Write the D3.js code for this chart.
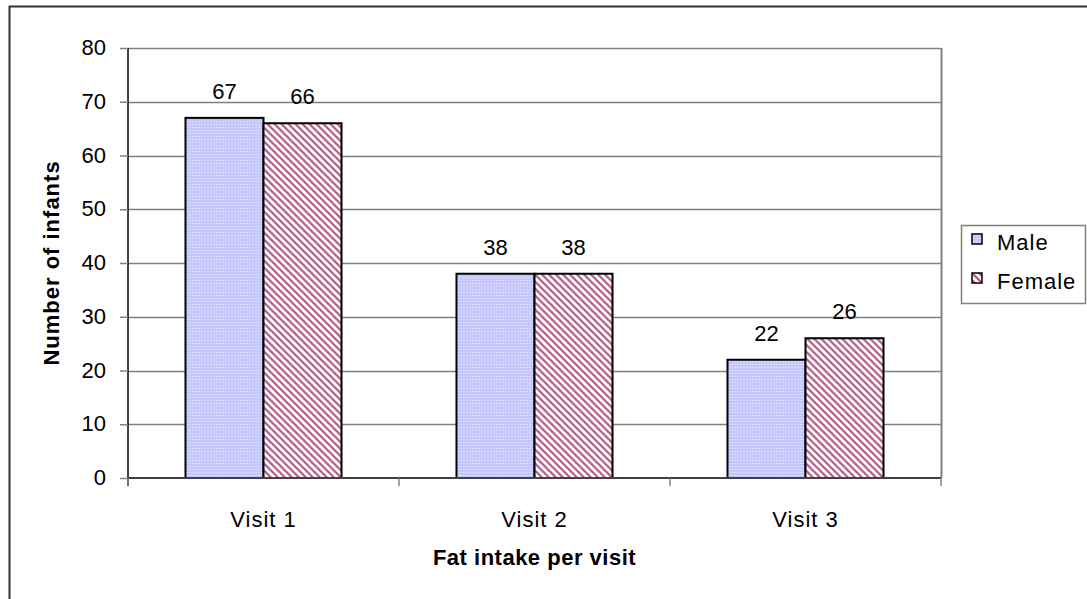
<!DOCTYPE html>
<html>
<head>
<meta charset="utf-8">
<script src="https://cdn.jsdelivr.net/npm/d3@7"></script>
<style>
  html, body { margin: 0; padding: 0; background: #fff; }
  svg { display: block; }
  text { font-family: "Liberation Sans", Arial, sans-serif; fill: #000; }
</style>
</head>
<body>
<svg id="chart" width="1087" height="599"></svg>
<script>
// Infants per visit, by sex
const visits = ["Visit 1", "Visit 2", "Visit 3"];
const seriesNames = ["Male", "Female"];
const maleCounts = [67, 38, 22];
const femaleCounts = [66, 38, 26];
const yTicks = [0, 10, 20, 30, 40, 50, 60, 70, 80];

const svg = d3.select("#chart");
const W = 1087, H = 599;
const plot = { left: 128, right: 941, top: 48, bottom: 478 };
const FONT = "Liberation Sans, Arial, sans-serif";

// outer frame (left and top edges visible)
svg.append("rect")
  .attr("x", 9.5).attr("y", 6.5)
  .attr("width", W + 20).attr("height", H + 20)
  .attr("fill", "#fff").attr("stroke", "#333").attr("stroke-width", 2);

// fill patterns
const defs = svg.append("defs");
const dots = defs.append("pattern")
  .attr("id", "pat-male").attr("patternUnits", "userSpaceOnUse")
  .attr("width", 3).attr("height", 3);
dots.append("rect").attr("width", 3).attr("height", 3).attr("fill", "#c6c6ff");
dots.append("rect").attr("x", 1).attr("y", 1).attr("width", 1).attr("height", 1).attr("fill", "#f4f4ff");

const stripes = defs.append("pattern")
  .attr("id", "pat-female").attr("patternUnits", "userSpaceOnUse")
  .attr("width", 7).attr("height", 7);
stripes.append("rect").attr("width", 7).attr("height", 7).attr("fill", "#fff");
stripes.append("path")
  .attr("d", "M-2,-2 L9,9 M-9,-2 L2,9 M5,-2 L16,9")
  .attr("stroke", "#b0507f").attr("stroke-width", 2);

const patterns = { Male: "url(#pat-male)", Female: "url(#pat-female)" };

const x0 = d3.scaleBand().domain(visits).range([plot.left, plot.right]).paddingInner(0).paddingOuter(0);
const x1 = d3.scaleBand().domain(seriesNames).range([0, 156]);
const groupOffset = (x0.bandwidth() - 156) / 2;
const y = d3.scaleLinear().domain([0, 80]).range([plot.bottom, plot.top]);

// gridlines
svg.append("g").selectAll("line")
  .data(yTicks.filter(d => d > 0))
  .join("line")
  .attr("x1", plot.left).attr("x2", plot.right)
  .attr("y1", d => Math.round(y(d)) + 0.5).attr("y2", d => Math.round(y(d)) + 0.5)
  .attr("stroke", "#808080").attr("stroke-width", 1.5);

// right edge of plot area
svg.append("line")
  .attr("x1", plot.right + 0.5).attr("x2", plot.right + 0.5)
  .attr("y1", plot.top).attr("y2", plot.bottom)
  .attr("stroke", "#808080").attr("stroke-width", 2);

// bars
const rows = visits.map((v, i) => ({ visit: v, Male: maleCounts[i], Female: femaleCounts[i] }));
const groups = svg.append("g").selectAll("g")
  .data(rows).join("g")
  .attr("transform", d => `translate(${x0(d.visit) + groupOffset},0)`);

groups.selectAll("rect")
  .data(d => seriesNames.map(s => ({ s, v: d[s] })))
  .join("rect")
  .attr("x", d => x1(d.s))
  .attr("y", d => y(d.v))
  .attr("width", x1.bandwidth())
  .attr("height", d => y(0) - y(d.v))
  .attr("fill", d => patterns[d.s])
  .attr("stroke", "#000").attr("stroke-width", 2);

groups.selectAll("text.val")
  .data(d => seriesNames.map(s => ({ s, v: d[s] })))
  .join("text").attr("class", "val")
  .attr("x", d => x1(d.s) + x1.bandwidth() / 2)
  .attr("y", d => y(d.v) - 19)
  .attr("text-anchor", "middle")
  .attr("font-size", 22)
  .text(d => d.v);

// y axis
const yAxis = d3.axisLeft(y).tickValues(yTicks).tickSize(8).tickPadding(14);
const gy = svg.append("g").attr("transform", `translate(${plot.left},0)`).call(yAxis);
gy.select(".domain").attr("stroke", "#404040").attr("stroke-width", 2).attr("d", `M0,${plot.top}V${plot.bottom + 8}`);
gy.selectAll(".tick line").attr("stroke", "#808080").attr("stroke-width", 1.5);
gy.selectAll(".tick text").attr("font-size", 22).attr("font-family", FONT).attr("fill", "#000").attr("dy", "0.3em");

// x axis
const xAxis = d3.axisBottom(x0).tickSize(0).tickPadding(33);
const gx = svg.append("g").attr("transform", `translate(0,${plot.bottom})`).call(xAxis);
gx.select(".domain").attr("stroke", "#404040").attr("stroke-width", 2).attr("d", `M${plot.left},0H${plot.right}`);
gx.selectAll(".tick text").attr("font-size", 22).attr("font-family", FONT).attr("fill", "#000")
  .attr("letter-spacing", 1);
gx.append("g").selectAll("line")
  .data([plot.left, ...visits.map(v => x0(v) + x0.bandwidth())])
  .join("line")
  .attr("x1", d => d).attr("x2", d => d)
  .attr("y1", 0).attr("y2", 8)
  .attr("stroke", "#808080").attr("stroke-width", 1.5);

// axis titles
svg.append("text")
  .attr("x", (plot.left + plot.right) / 2).attr("y", 565)
  .attr("text-anchor", "middle").attr("font-size", 22).attr("font-weight", "bold")
  .attr("letter-spacing", 0.5)
  .text("Fat intake per visit");

svg.append("text")
  .attr("transform", `translate(59,${(plot.top + plot.bottom) / 2}) rotate(-90)`)
  .attr("text-anchor", "middle").attr("font-size", 22).attr("font-weight", "bold")
  .attr("letter-spacing", 1)
  .text("Number of infants");

// legend
const lg = svg.append("g").attr("transform", "translate(961,225)");
lg.append("rect").attr("x", 0.5).attr("y", 0.5).attr("width", 124).attr("height", 78)
  .attr("fill", "#fff").attr("stroke", "#808080").attr("stroke-width", 1.5);
seriesNames.forEach((s, i) => {
  const row = lg.append("g").attr("transform", `translate(11,${9 + i * 39})`);
  row.append("rect").attr("width", 10).attr("height", 10)
    .attr("fill", patterns[s]).attr("stroke", "#000").attr("stroke-width", 1.5);
  row.append("text").attr("x", 25).attr("y", 16).attr("font-size", 22)
    .attr("letter-spacing", 1).text(s);
});
</script>
</body>
</html>
